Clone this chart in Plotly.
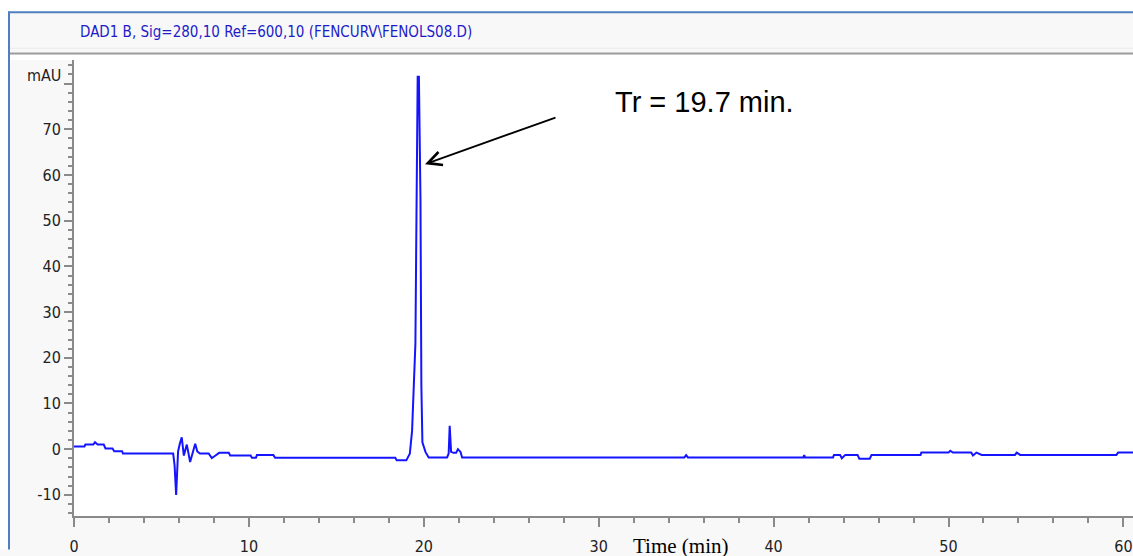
import plotly.graph_objects as go

# ---------------- data ----------------
time_min = [
    0.0, 0.6, 0.65, 1.1, 1.2, 1.35, 1.7, 1.8, 2.2, 2.3, 2.75, 2.8,
    5.67, 5.75, 5.84, 5.95, 6.05, 6.16, 6.28, 6.45, 6.64, 6.8, 6.93, 7.05,
    7.2, 7.7, 7.88, 8.05, 8.3, 8.85, 8.93, 10.1, 10.17, 10.4, 10.46, 11.4,
    11.5, 18.37, 18.45, 19.0, 19.2, 19.33, 19.42, 19.52, 19.58, 19.65, 19.72,
    19.81, 19.86, 19.92, 20.1, 20.28, 21.33, 21.42, 21.48, 21.56, 21.7, 21.85,
    21.95, 22.1, 22.19, 34.9, 35.0, 35.1, 41.7, 41.75, 41.8, 43.4, 43.45,
    43.8, 43.9, 44.1, 44.8, 44.9, 45.5, 45.6, 48.4, 48.45, 50.0, 50.1, 50.25,
    51.3, 51.4, 51.6, 51.9, 53.8, 53.9, 54.1, 59.6, 59.7, 61.0,
]
absorbance_mau = [
    0.6, 0.6, 1.0, 1.0, 1.5, 1.0, 1.0, 0.15, 0.15, -0.45, -0.45, -0.95,
    -0.95, -3.5, -10.0, -0.5, 1.2, 2.6, -1.4, 1.0, -2.8, -0.3, 1.2, -0.5,
    -0.95, -0.95, -1.95, -1.5, -0.8, -0.8, -1.4, -1.4, -1.9, -1.9, -1.3, -1.3,
    -1.9, -1.9, -2.45, -2.45, -1.0, 4.0, 13.7, 23.1, 50.5, 81.5, 81.5,
    54.8, 14.1, 1.5, -0.65, -1.8, -1.8, -1.0, 5.1, -0.6, -0.8, -0.8,
    0.0, -0.6, -1.8, -1.8, -1.3, -1.8, -1.8, -1.3, -1.8, -1.8, -1.25,
    -1.25, -2.0, -1.25, -1.25, -2.1, -2.1, -1.25, -1.25, -0.75, -0.75, -0.35, -0.75,
    -0.75, -1.4, -0.75, -1.25, -1.25, -0.75, -1.25, -1.25, -0.75, -0.75,
]

x_major_ticks = [0, 10, 20, 30, 40, 50, 60]
y_tick_values = [-10, 0, 10, 20, 30, 40, 50, 60, 70, 80]
y_tick_labels = ["-10", "0", "10", "20", "30", "40", "50", "60", "70", ""]
y_unit_label = "mAU"

title_text = "DAD1 B, Sig=280,10 Ref=600,10 (FENCURV\\FENOLS08.D)"
peak_label = "Tr = 19.7 min."
x_axis_label = "Time (min)"

# ---------------- layout geometry (page pixels) ----------------
W, H = 1133, 556
PLOT_LEFT, PLOT_RIGHT, PLOT_TOP, PLOT_BOTTOM = 74, 1133, 60, 524
L, R, T, B = PLOT_LEFT, W - PLOT_RIGHT, PLOT_TOP, H - PLOT_BOTTOM
PW, PH = PLOT_RIGHT - PLOT_LEFT, PLOT_BOTTOM - PLOT_TOP
PX_PER_MIN = 17.49
PX_PER_MAU = 4.65
ZERO_Y = 456


def px(x):
    return (x - PLOT_LEFT) / PW


def py(y):
    return (PLOT_BOTTOM - y) / PH


NARROW = "Liberation Sans Narrow, DejaVu Sans Condensed, Arial Narrow, sans-serif"
AXIS_GREY = "#8a8a8a"

fig = go.Figure()
fig.add_trace(go.Scatter(
    x=time_min, y=absorbance_mau, mode="lines",
    line=dict(color="#1414ff", width=2),
    hoverinfo="skip", showlegend=False,
))

shapes = [
    # white outside the window frame (top and left)
    dict(type="rect", xref="paper", yref="paper", x0=px(-2), x1=px(W + 2), y0=py(-2), y1=py(11),
         fillcolor="white", line=dict(width=0), layer="below"),
    dict(type="rect", xref="paper", yref="paper", x0=px(-2), x1=px(8), y0=py(-2), y1=py(H + 2),
         fillcolor="white", line=dict(width=0), layer="below"),
    # white strip under the title band
    dict(type="rect", xref="paper", yref="paper", x0=px(10), x1=px(W + 2), y0=py(55), y1=py(PLOT_TOP),
         fillcolor="white", line=dict(width=0), layer="below"),
    # blue frame lines
    dict(type="line", xref="paper", yref="paper", x0=px(8), x1=px(W + 2), y0=py(11.5), y1=py(11.5),
         line=dict(color="#4f7fbf", width=2)),
    dict(type="line", xref="paper", yref="paper", x0=px(9), x1=px(9), y0=py(11), y1=py(H + 2),
         line=dict(color="#4f7fbf", width=2)),
    # grey separator under the title band
    dict(type="line", xref="paper", yref="paper", x0=px(10), x1=px(W + 2), y0=py(53.5), y1=py(53.5),
         line=dict(color="#9c9c9c", width=2)),
    dict(type="line", xref="paper", yref="paper", x0=px(10), x1=px(W + 2), y0=py(48), y1=py(48),
         line=dict(color="#ececec", width=1)),
]

annotations = [
    dict(text=title_text, xref="paper", yref="paper", x=px(78), y=py(31),
         xanchor="left", yanchor="middle", showarrow=False,
         font=dict(family=NARROW, size=15, color="#1c1cc8")),
    dict(text=y_unit_label, xref="paper", yref="paper", x=px(63), y=py(76),
         xanchor="right", yanchor="middle", showarrow=False,
         font=dict(family=NARROW, size=16, color="#222")),
    dict(text=peak_label, xref="paper", yref="paper", x=px(613), y=py(103),
         xanchor="left", yanchor="middle", showarrow=False,
         font=dict(family="Liberation Sans, Arial, sans-serif", size=29, color="black")),
    dict(text="", x=(425 - PLOT_LEFT) / PX_PER_MIN, y=(ZERO_Y - 166) / PX_PER_MAU,
         ax=(557 - PLOT_LEFT) / PX_PER_MIN, ay=(ZERO_Y - 118) / PX_PER_MAU,
         xref="x", yref="y", axref="x", ayref="y", showarrow=True, arrowhead=5,
         arrowsize=1.5, arrowwidth=1.8, arrowcolor="black"),
    dict(text=x_axis_label, xref="paper", yref="paper", x=px(680), y=py(540),
         xanchor="center", yanchor="top", showarrow=False,
         font=dict(family="Liberation Serif, Times New Roman, serif", size=21, color="black")),
]

fig.update_layout(
    width=W, height=H, autosize=False,
    margin=dict(l=L, r=R, t=T, b=B, pad=0),
    paper_bgcolor="#f8f8f8", plot_bgcolor="white",
    shapes=shapes, annotations=annotations,
    xaxis=dict(
        range=[0, PW / PX_PER_MIN], showgrid=False, zeroline=False,
        showline=True, linecolor=AXIS_GREY, linewidth=2,
        ticks="outside", ticklen=9, tickwidth=1.5, tickcolor=AXIS_GREY,
        tickvals=x_major_ticks, ticklabelstandoff=6,
        tickfont=dict(family=NARROW, size=16, color="#222"),
        minor=dict(dtick=2, tick0=0, ticks="outside", ticklen=5, tickwidth=1.5, tickcolor=AXIS_GREY),
    ),
    yaxis=dict(
        range=[(ZERO_Y - PLOT_BOTTOM) / PX_PER_MAU, (ZERO_Y - PLOT_TOP) / PX_PER_MAU],
        showgrid=False, zeroline=False,
        showline=True, linecolor=AXIS_GREY, linewidth=2,
        ticks="outside", ticklen=8, tickwidth=1.5, tickcolor=AXIS_GREY,
        tickvals=y_tick_values, ticktext=y_tick_labels,
        tickfont=dict(family=NARROW, size=16, color="#222"),
        minor=dict(dtick=2, tick0=0, ticks="outside", ticklen=4, tickwidth=1.5, tickcolor=AXIS_GREY),
    ),
)

# remove the page's default 8px body margin so the figure fills the window exactly
fig.write_html("out.html", config={"displayModeBar": False},
               post_script="document.body.style.margin='0';")
